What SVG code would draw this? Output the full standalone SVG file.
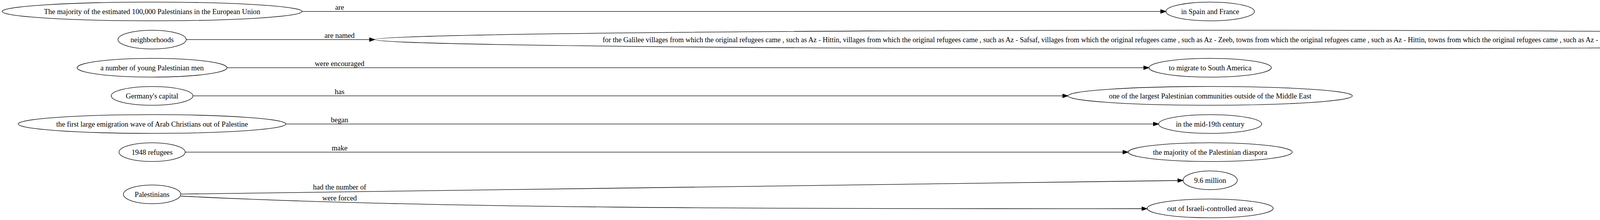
<svg xmlns="http://www.w3.org/2000/svg" width="5242" height="563" viewBox="0 0 5242 563">
<style>
.n ellipse{fill:none;stroke:#000;stroke-width:1}
text{font-family:"Liberation Serif","Times New Roman",serif;font-size:14px;text-anchor:middle;fill:#000}
.e path{fill:none;stroke:#000;stroke-width:1;marker-end:url(#arr)}
</style>
<defs>
<marker id="arr" markerUnits="userSpaceOnUse" markerWidth="11" markerHeight="8" refX="0" refY="3.5" orient="auto" overflow="visible">
<path d="M0,0 L10,3.5 L0,7 Z" fill="#000" stroke="#000" stroke-width="1"/>
</marker>
</defs>
<rect width="5242" height="563" fill="#fff"/>
<g transform="scale(1.33333)">
<g id="edges" class="e">
<path d="M580,22 L2228.5,22"/>
<text x="652" y="18.8">are</text>
<path d="M357.5,76 L709.5,76"/>
<text x="652" y="72.8">are named</text>
<path d="M436,130 L2196,130"/>
<text x="652" y="126.8">were encouraged</text>
<path d="M370.5,184 L2040.5,184"/>
<text x="652" y="180.8">has</text>
<path d="M549,238 L2214.5,238"/>
<text x="652" y="234.8">began</text>
<path d="M355.5,292 L2156,292"/>
<text x="652" y="288.8">make</text>
<path d="M347.3,372.5 C985,364 1623,355 2261.5,346.5"/>
<text x="652" y="363.8">had the number of</text>
<path d="M347.3,376.3 C800,400 1500,401 2192.5,400.5"/>
<text x="652" y="385">were forced</text>
</g>
<g id="n1" class="n"><ellipse cx="292" cy="22" rx="288" ry="18"/><text x="292" y="27">The majority of the estimated 100,000 Palestinians in the European Union</text></g>
<g id="n2" class="n"><ellipse cx="292" cy="76" rx="65.5" ry="18"/><text x="292" y="81">neighborhoods</text></g>
<g id="n3" class="n"><ellipse cx="292" cy="130" rx="144" ry="18"/><text x="292" y="135">a number of young Palestinian men</text></g>
<g id="n4" class="n"><ellipse cx="292" cy="184" rx="78.5" ry="18"/><text x="292" y="189">Germany's capital</text></g>
<g id="n5" class="n"><ellipse cx="292" cy="238" rx="257" ry="18"/><text x="292" y="243">the first large emigration wave of Arab Christians out of Palestine</text></g>
<g id="n6" class="n"><ellipse cx="292" cy="292" rx="63.5" ry="18"/><text x="292" y="297">1948 refugees</text></g>
<g id="n7" class="n"><ellipse cx="292" cy="373" rx="55" ry="18"/><text x="292" y="378">Palestinians</text></g>
<g id="n8" class="n"><ellipse cx="2323.5" cy="22" rx="85" ry="18"/><text x="2323.5" y="27">in Spain and France</text></g>
<g id="n9" class="n"><ellipse cx="2323.5" cy="76" rx="1604" ry="18"/><text x="2323.5" y="81" textLength="2333" lengthAdjust="spacingAndGlyphs">for the Galilee villages from which the original refugees came , such as Az - Hittin, villages from which the original refugees came , such as Az - Safsaf, villages from which the original refugees came , such as Az - Zeeb, towns from which the original refugees came , such as Az - Hittin, towns from which the original refugees came , such as Az - Safsaf and towns from which the original refugees came , such as Az - Zeeb</text></g>
<g id="n10" class="n"><ellipse cx="2323.5" cy="130" rx="117.5" ry="18"/><text x="2323.5" y="135">to migrate to South America</text></g>
<g id="n11" class="n"><ellipse cx="2323.5" cy="184" rx="273" ry="18"/><text x="2323.5" y="189">one of the largest Palestinian communities outside of the Middle East</text></g>
<g id="n12" class="n"><ellipse cx="2323.5" cy="238" rx="99" ry="18"/><text x="2323.5" y="243">in the mid-19th century</text></g>
<g id="n13" class="n"><ellipse cx="2323.5" cy="292" rx="157.5" ry="18"/><text x="2323.5" y="297">the majority of the Palestinian diaspora</text></g>
<g id="n14" class="n"><ellipse cx="2323.5" cy="346" rx="52" ry="18"/><text x="2323.5" y="351">9.6 million</text></g>
<g id="n15" class="n"><ellipse cx="2323.5" cy="400" rx="121" ry="18"/><text x="2323.5" y="405">out of Israeli-controlled areas</text></g>
</g>
</svg>
